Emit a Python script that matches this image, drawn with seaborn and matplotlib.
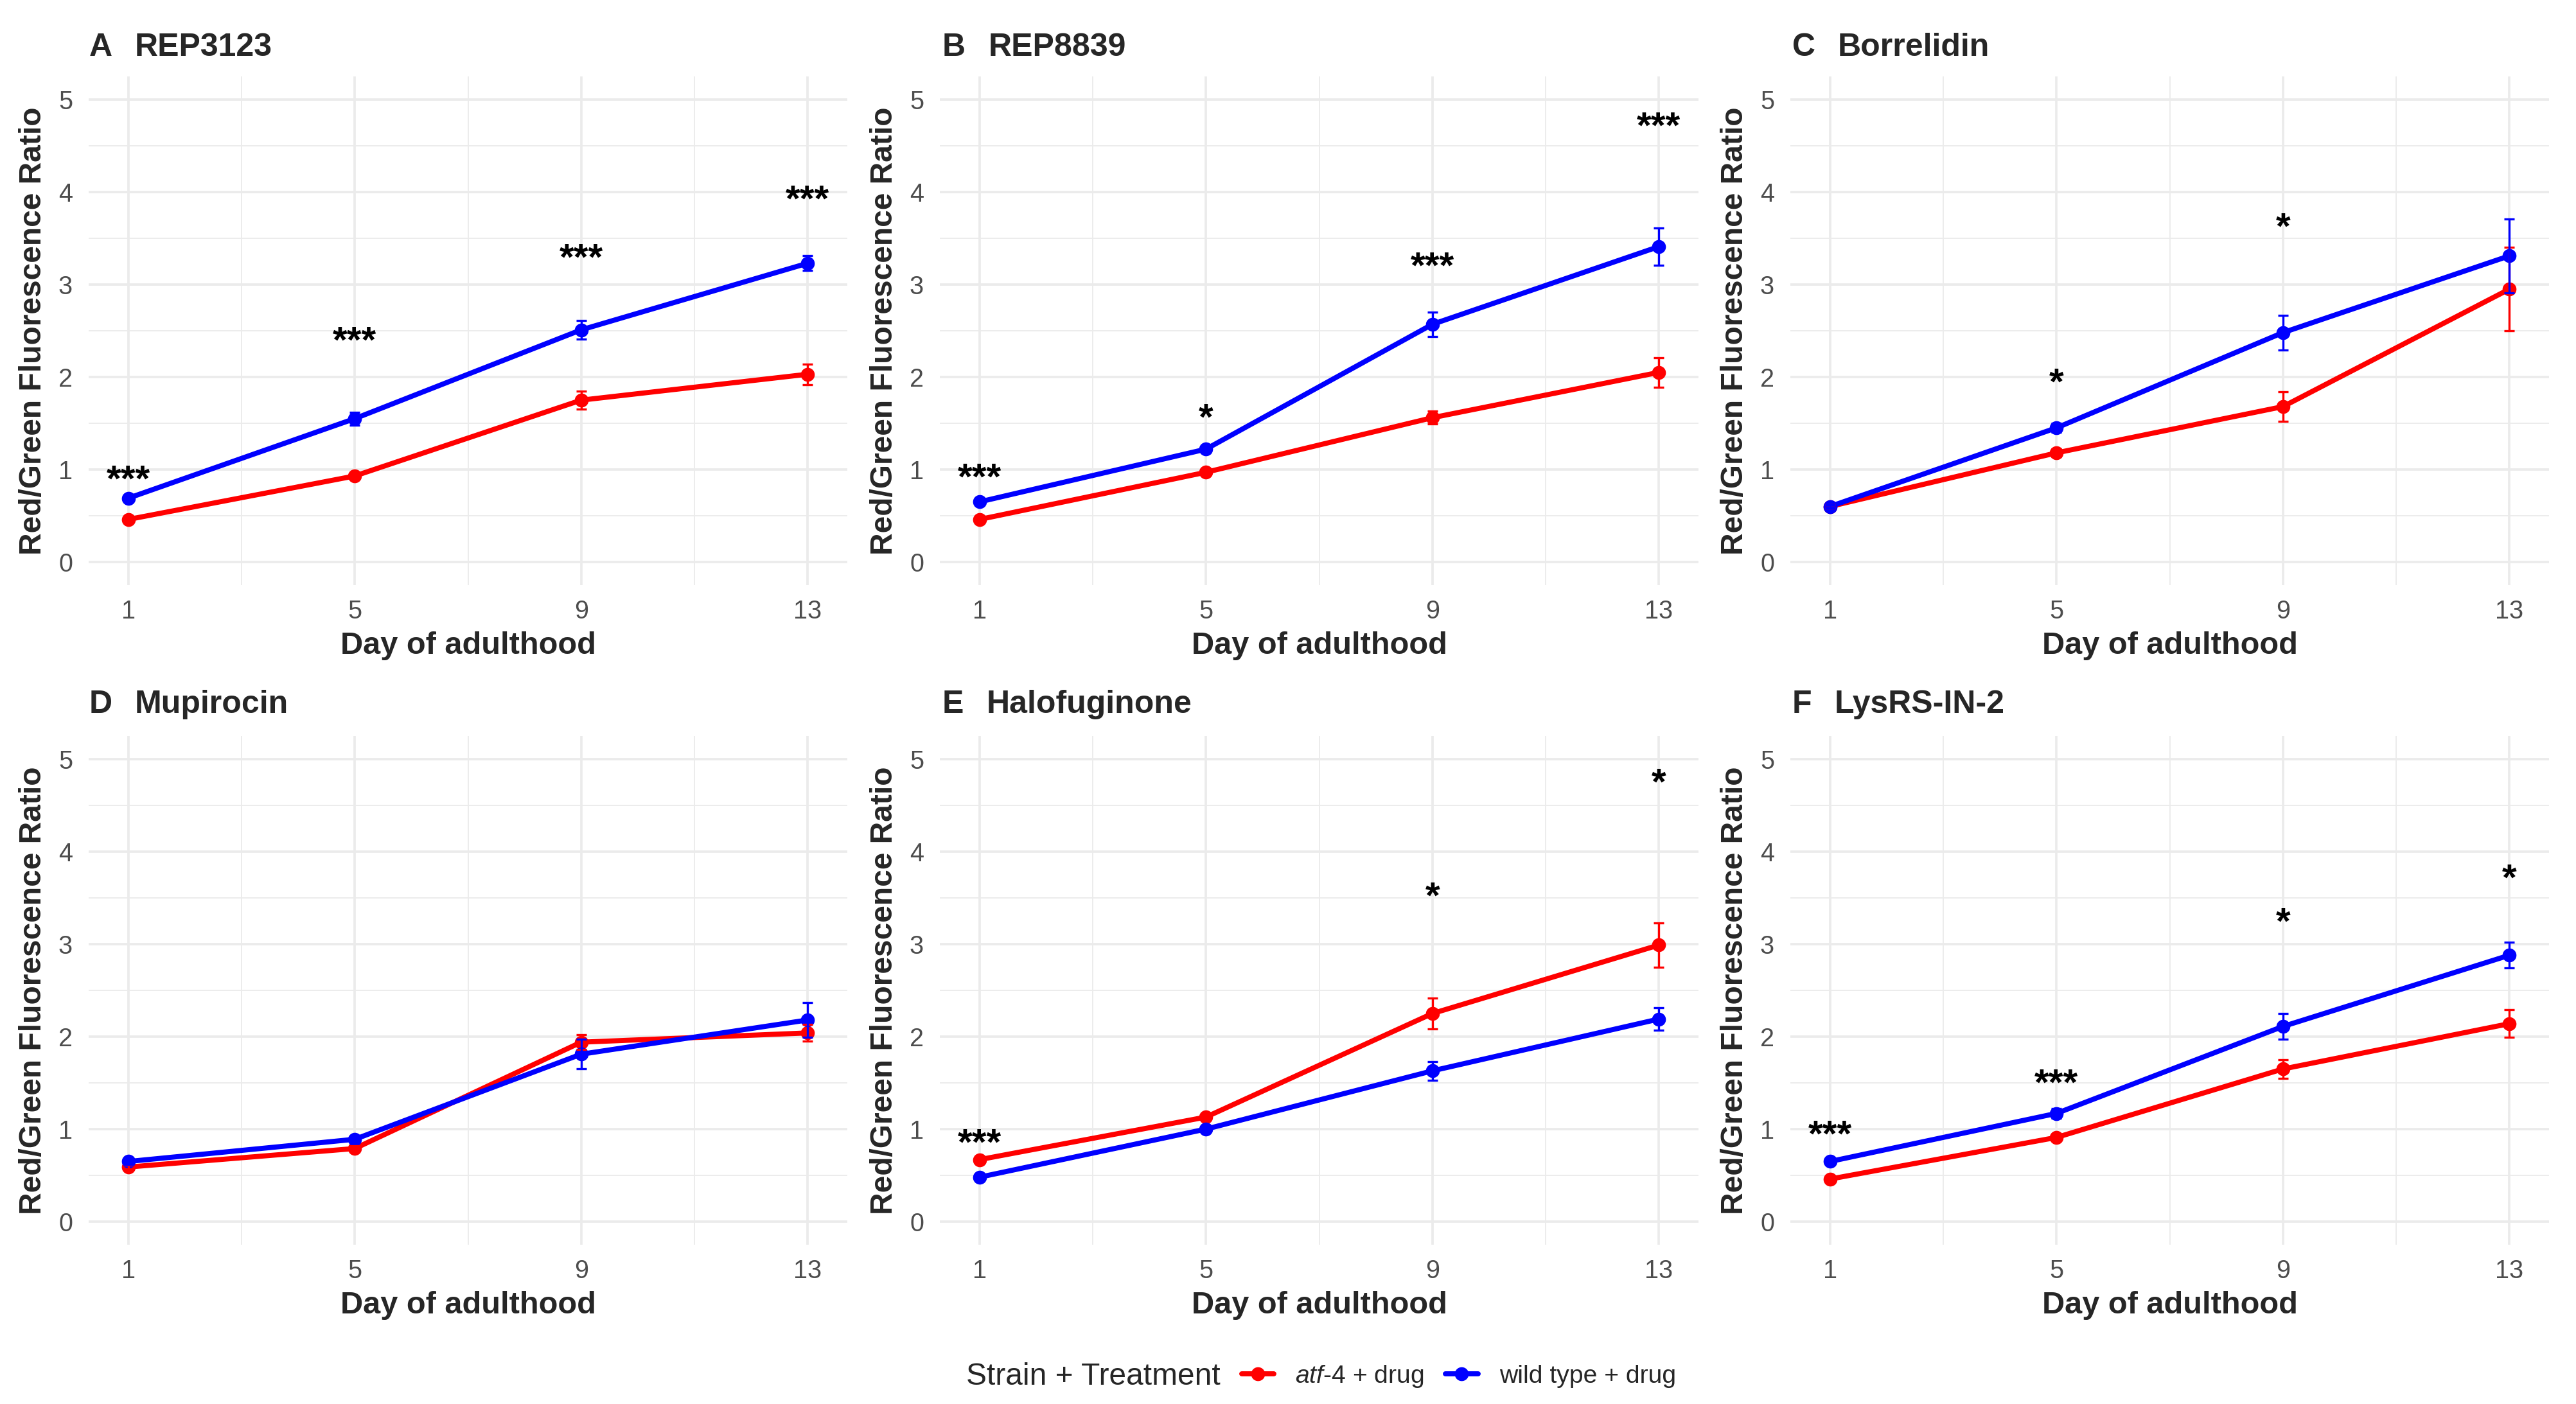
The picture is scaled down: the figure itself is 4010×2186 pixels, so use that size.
import numpy as np
import pandas as pd
import matplotlib
matplotlib.use("Agg")
import matplotlib.pyplot as plt
import seaborn as sns
from matplotlib.lines import Line2D
from matplotlib.legend_handler import HandlerTuple

# ---------------- data ----------------
days = [1, 5, 9, 13]
panel_tags = ["A", "B", "C", "D", "E", "F"]
drugs = ["REP3123", "REP8839", "Borrelidin", "Mupirocin", "Halofuginone", "LysRS-IN-2"]
strains = ["atf-4 + drug", "wild type + drug"]

atf4_rep3123 = [0.46, 0.93, 1.75, 2.03]
atf4_rep8839 = [0.46, 0.97, 1.56, 2.05]
atf4_borrelidin = [0.60, 1.18, 1.68, 2.95]
atf4_mupirocin = [0.59, 0.79, 1.94, 2.04]
atf4_halofuginone = [0.67, 1.13, 2.25, 2.99]
atf4_lysrs = [0.46, 0.91, 1.65, 2.14]

atf4_se_rep3123 = [0.02, 0.03, 0.10, 0.11]
atf4_se_rep8839 = [0.02, 0.03, 0.07, 0.16]
atf4_se_borrelidin = [0.02, 0.04, 0.16, 0.45]
atf4_se_mupirocin = [0.02, 0.03, 0.08, 0.09]
atf4_se_halofuginone = [0.02, 0.04, 0.17, 0.24]
atf4_se_lysrs = [0.02, 0.03, 0.10, 0.15]

wt_rep3123 = [0.69, 1.55, 2.51, 3.23]
wt_rep8839 = [0.65, 1.22, 2.57, 3.41]
wt_borrelidin = [0.60, 1.45, 2.48, 3.31]
wt_mupirocin = [0.65, 0.89, 1.81, 2.18]
wt_halofuginone = [0.48, 1.00, 1.63, 2.19]
wt_lysrs = [0.65, 1.17, 2.11, 2.88]

wt_se_rep3123 = [0.03, 0.07, 0.10, 0.08]
wt_se_rep8839 = [0.03, 0.04, 0.13, 0.20]
wt_se_borrelidin = [0.02, 0.05, 0.19, 0.40]
wt_se_mupirocin = [0.03, 0.03, 0.16, 0.19]
wt_se_halofuginone = [0.02, 0.03, 0.10, 0.12]
wt_se_lysrs = [0.03, 0.05, 0.14, 0.14]

# significance labels (per day) and their heights
sig_rep3123 = ["***", "***", "***", "***"]
sig_rep8839 = ["***", "*", "***", "***"]
sig_borrelidin = ["", "*", "*", ""]
sig_mupirocin = ["", "", "", ""]
sig_halofuginone = ["***", "", "*", "*"]
sig_lysrs = ["***", "***", "*", "*"]

sig_y_rep3123 = [0.99, 2.49, 3.39, 4.02]
sig_y_rep8839 = [1.01, 1.66, 3.30, 4.81]
sig_y_borrelidin = [0, 2.04, 3.72, 0]
sig_y_mupirocin = [0, 0, 0, 0]
sig_y_halofuginone = [0.95, 0, 3.62, 4.85]
sig_y_lysrs = [1.04, 1.60, 3.34, 3.81]

atf4_means = [atf4_rep3123, atf4_rep8839, atf4_borrelidin, atf4_mupirocin, atf4_halofuginone, atf4_lysrs]
atf4_ses = [atf4_se_rep3123, atf4_se_rep8839, atf4_se_borrelidin, atf4_se_mupirocin, atf4_se_halofuginone, atf4_se_lysrs]
wt_means = [wt_rep3123, wt_rep8839, wt_borrelidin, wt_mupirocin, wt_halofuginone, wt_lysrs]
wt_ses = [wt_se_rep3123, wt_se_rep8839, wt_se_borrelidin, wt_se_mupirocin, wt_se_halofuginone, wt_se_lysrs]
sig_labels = [sig_rep3123, sig_rep8839, sig_borrelidin, sig_mupirocin, sig_halofuginone, sig_lysrs]
sig_heights = [sig_y_rep3123, sig_y_rep8839, sig_y_borrelidin, sig_y_mupirocin, sig_y_halofuginone, sig_y_lysrs]

colors = {"atf-4 + drug": "#FF0000", "wild type + drug": "#0000FF"}

# ---------------- style ----------------
sns.set_style("whitegrid", {"grid.color": "#EBEBEB", "axes.edgecolor": "white"})
plt.rcParams["font.family"] = ["Liberation Sans", "DejaVu Sans"]
plt.rcParams["mathtext.fontset"] = "custom"
plt.rcParams["mathtext.it"] = "Liberation Sans:italic"
plt.rcParams["mathtext.rm"] = "Liberation Sans"

W, H = 4011, 2186
DPI = 300
fig = plt.figure(figsize=(W / DPI, H / DPI), dpi=DPI)

col_left = [138, 1463, 2787]
ax_w = 1181
row_top = [119, 1146]
ax_h = 792

tag_x = [139, 1467, 2790]
title_base = [87, 1110]

for i, drug in enumerate(drugs):
    r, c = divmod(i, 3)
    left = col_left[c] / W
    bottom = 1 - (row_top[r] + ax_h) / H
    ax = fig.add_axes([left, bottom, ax_w / W, ax_h / H])

    df = pd.DataFrame({
        "day": days * 2,
        "ratio": atf4_means[i] + wt_means[i],
        "se": atf4_ses[i] + wt_ses[i],
        "strain": [strains[0]] * 4 + [strains[1]] * 4,
    })

    sns.lineplot(data=df, x="day", y="ratio", hue="strain", hue_order=strains,
                 palette=colors, marker="o", markersize=5.2, markeredgewidth=0,
                 linewidth=1.9, errorbar=None, legend=False, ax=ax, zorder=3)
    for s in strains:
        sub = df[df["strain"] == s]
        ax.errorbar(sub["day"], sub["ratio"], yerr=sub["se"], fmt="none",
                    ecolor=colors[s], elinewidth=0.8, capsize=2.0, capthick=0.8, zorder=3)

    for d, lab, yv in zip(days, sig_labels[i], sig_heights[i]):
        if lab:
            ax.annotate(lab, xy=(d, yv), xytext=(0, -7.8), textcoords="offset points",
                        ha="center", va="baseline", fontsize=14, fontweight="bold",
                        color="black", zorder=4)

    ax.set_xlim(0.3, 13.7)
    ax.set_ylim(-0.25, 5.25)
    ax.set_xticks(days)
    ax.set_xticks([3, 7, 11], minor=True)
    ax.set_yticks([0, 1, 2, 3, 4, 5])
    ax.set_yticks([0.5, 1.5, 2.5, 3.5, 4.5], minor=True)
    ax.grid(which="major", color="#EBEBEB", linewidth=0.9)
    ax.grid(which="minor", color="#EBEBEB", linewidth=0.45)
    ax.tick_params(which="both", length=0, labelsize=9.5, labelcolor="#4D4D4D")
    ax.tick_params(axis="x", pad=5.2)
    ax.tick_params(axis="y", pad=6)
    for sp in ax.spines.values():
        sp.set_visible(False)
    ax.set_xlabel("Day of adulthood", fontsize=11.7, fontweight="bold", labelpad=3)
    ax.set_ylabel("Red/Green Fluorescence Ratio", fontsize=11.5, fontweight="bold", labelpad=4)

    t = fig.text(tag_x[c] / W, 1 - title_base[r] / H, panel_tags[i], fontsize=12,
                 fontweight="bold", ha="left", va="baseline")
    ax.annotate(drug, xy=(1, 0), xycoords=t, xytext=(8.4, 0), textcoords="offset points",
                fontsize=12, fontweight="bold", ha="left", va="bottom",
                annotation_clip=False)

# ---------------- legend ----------------
leg_y = 1 - 2143 / H
fig.text(1504 / W, leg_y, "Strain + Treatment", fontsize=11.5, ha="left", va="center")
handles = []
for s in strains:
    h_line = Line2D([0], [0], color=colors[s], linewidth=1.9, marker="o",
                    markersize=5.2, markeredgewidth=0)
    h_bar = Line2D([0], [0], color=colors[s], linestyle="none", marker="|",
                   markersize=5, markeredgewidth=1.2)
    handles.append((h_line, h_bar))
labels = [r"$\it{atf}$-$\it{4}$ + drug", "wild type + drug"]
fig.legend(handles, labels, handler_map={tuple: HandlerTuple(ndivide=1)},
           loc="center left", bbox_to_anchor=(1933 / W, leg_y), ncol=2,
           frameon=False, fontsize=9.4, handlelength=1.28, handletextpad=0.85,
           columnspacing=0.85, borderpad=0, borderaxespad=0)

fig.savefig("out.png", dpi=DPI, facecolor="white")
